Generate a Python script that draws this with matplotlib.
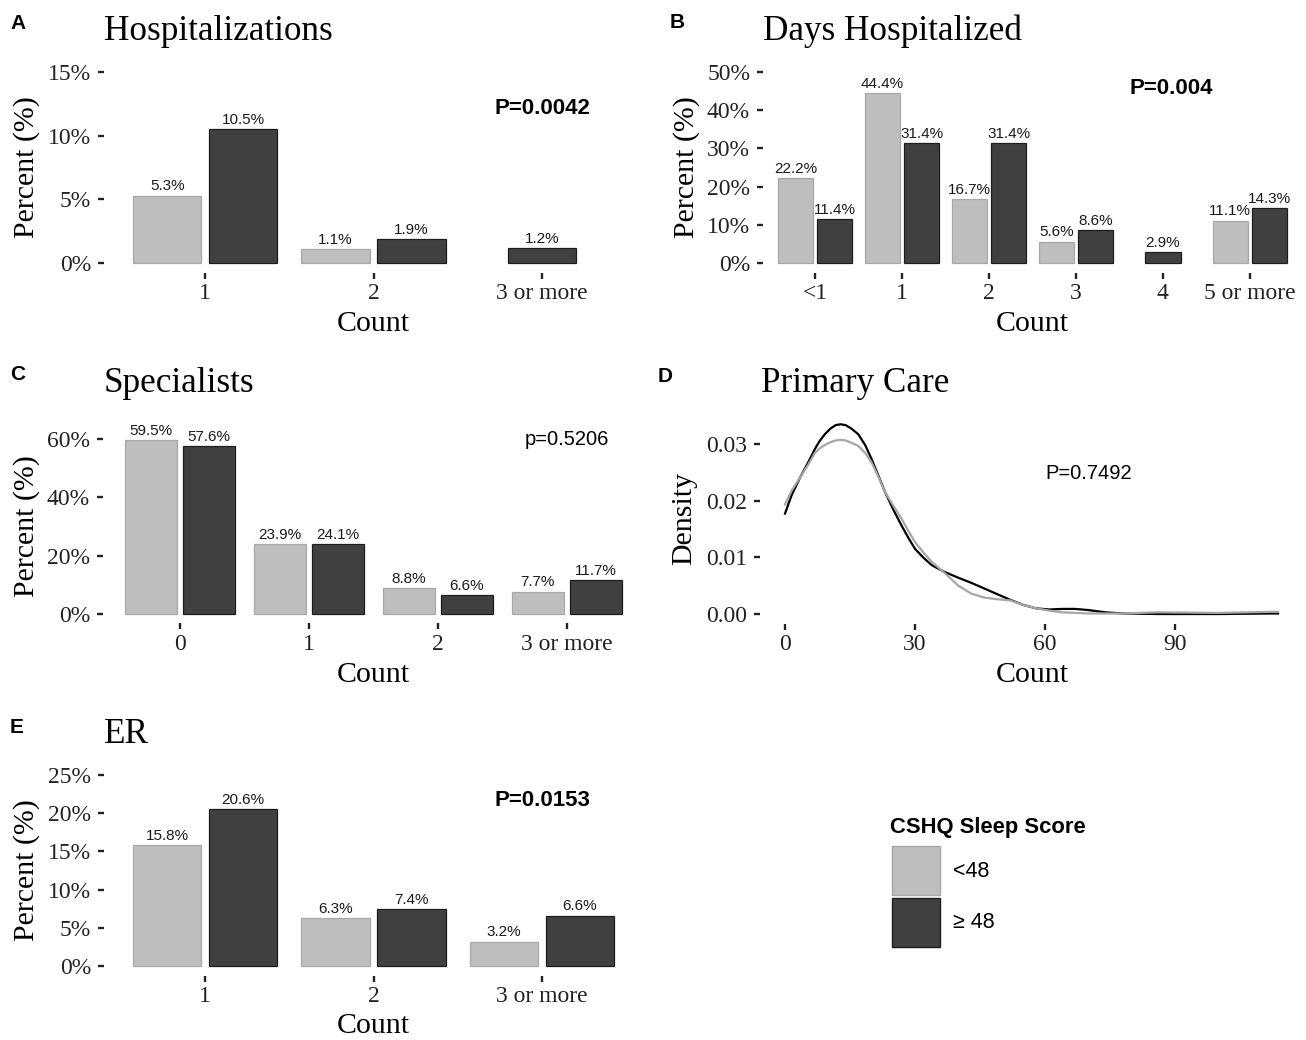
import matplotlib

matplotlib.use("Agg")
from matplotlib import pyplot as plt
from matplotlib.patches import Patch

W, H = 1306, 1040
LIGHT = "#bebebe"
DARK = "#404040"
SERIF = ["Liberation Serif", "DejaVu Serif"]
SANS = ["Liberation Sans", "DejaVu Sans"]

# A: hospitalizations
hosp_cats = ["1", "2", "3 or more"]
hosp_lt48 = [5.3, 1.1, 0.0]
hosp_ge48 = [10.5, 1.9, 1.2]

# B: days hospitalized
days_cats = ["<1", "1", "2", "3", "4", "5 or more"]
days_lt48 = [22.2, 44.4, 16.7, 5.6, 0.0, 11.1]
days_ge48 = [11.4, 31.4, 31.4, 8.6, 2.9, 14.3]

# C: specialists
spec_cats = ["0", "1", "2", "3 or more"]
spec_lt48 = [59.5, 23.9, 8.8, 7.7]
spec_ge48 = [57.6, 24.1, 6.6, 11.7]

# D: primary care density
pc_x = [0, 1.5, 3.5, 5.4, 6.9, 8, 9.2, 10.5, 11.7, 12.8, 14, 15.3, 16.9, 18.5,
        20, 21.5, 23.1, 25, 26.9, 28.5, 30, 32, 33.9, 36.9, 40, 43, 46, 49,
        52, 55, 58, 61, 64, 67, 70, 74, 78, 86, 100, 113.8]
pc_ge48 = [0.0177, 0.0209, 0.0241, 0.0268, 0.0291, 0.0305, 0.0317, 0.0327,
           0.0333, 0.03345, 0.0333, 0.0327, 0.0317, 0.0298, 0.0273, 0.0245,
           0.0215, 0.0184, 0.0156, 0.0134, 0.0115, 0.0099, 0.0086, 0.0074,
           0.0064, 0.0055, 0.0045, 0.0035, 0.0025, 0.0016, 0.0010, 0.0008,
           0.0009, 0.0009, 0.0007, 0.0003, 0.0001, 0.0000, 0.0000, 0.0001]
pc_lt48 = [0.0193, 0.0217, 0.0241, 0.0264, 0.0284, 0.0292, 0.0298, 0.0303,
           0.0306, 0.0307, 0.0306, 0.0302, 0.02965, 0.0284, 0.0267, 0.0243,
           0.0215, 0.0191, 0.0168, 0.0146, 0.0127, 0.0108, 0.0092, 0.0072,
           0.0050, 0.0036, 0.0029, 0.0026, 0.0024, 0.0016, 0.0010, 0.0006,
           0.0003, 0.0002, 0.0001, 0.0001, 0.0001, 0.0003, 0.0002, 0.0004]

# E: ER visits
er_cats = ["1", "2", "3 or more"]
er_lt48 = [15.8, 6.3, 3.2]
er_ge48 = [20.6, 7.4, 6.6]


def px_axes(fig, left, top, right, bottom):
    return fig.add_axes([left / W, 1 - bottom / H, (right - left) / W, (bottom - top) / H])


def style(ax, xlab_y, ylab_x):
    for s in ax.spines.values():
        s.set_visible(False)
    ax.tick_params(axis="both", length=4.3, width=1.7, color="#222222",
                   labelsize=17, labelcolor="#222222")
    ax.tick_params(axis="y", pad=5)
    ax.tick_params(axis="x", pad=3.5)
    for lab in ax.get_xticklabels() + ax.get_yticklabels():
        lab.set_family(SERIF)
    ax.xaxis.set_label_coords(0.5, xlab_y)
    ax.yaxis.set_label_coords(ylab_x, 0.5)


def barpanel(fig, box, cats, lt, ge, ylim, yticks, ptext, pxy, pbold, xlab_y, ylab_x):
    ax = px_axes(fig, *box)
    xs = list(range(1, len(cats) + 1))
    bw = 0.405
    # dodge like ggplot: a lone bar sits on its tick
    off_lt = [0.0 if g <= 0 else -0.225 for g in ge]
    off_ge = [0.0 if l <= 0 else 0.225 for l in lt]
    b1 = ax.bar([x + o for x, o in zip(xs, off_lt)], lt, bw, color=LIGHT,
                edgecolor="#a8a8a8", linewidth=0.9)
    b2 = ax.bar([x + o for x, o in zip(xs, off_ge)], ge, bw, color=DARK,
                edgecolor="#1e1e1e", linewidth=0.9)
    for bars, vals in ((b1, lt), (b2, ge)):
        for rect, v in zip(bars, vals):
            if v <= 0:
                rect.set_visible(False)
                continue
            ax.annotate(f"{v:.1f}%", (rect.get_x() + rect.get_width() / 2, v),
                        xytext=(0, 1.5), textcoords="offset points", ha="center",
                        va="bottom", fontsize=11, family=SANS, color="#1a1a1a")
    ax.text(pxy[0], pxy[1], ptext, ha="center", va="center", family=SANS,
            fontsize=16 if pbold else 14.5, fontweight="bold" if pbold else "normal")
    ax.set_xlim(0.4, len(cats) + 0.6)
    ax.set_ylim(*ylim)
    ax.set_xticks(xs, cats)
    ax.set_yticks(yticks, [f"{t}%" for t in yticks])
    ax.set_xlabel("Count", fontsize=21.5, family=SERIF, va="center")
    ax.set_ylabel("Percent (%)", fontsize=21.5, family=SERIF, va="center")
    style(ax, xlab_y, ylab_x)
    return ax


def heading(fig, x, y, letter, lx, ly, title):
    fig.text(lx / W, 1 - ly / H, letter, family=SANS, fontweight="bold",
             fontsize=15, va="baseline", ha="left")
    fig.text(x / W, 1 - y / H, title, family=SERIF, fontsize=25.3,
             va="baseline", ha="left")


fig = plt.figure(figsize=(W / 100, H / 100), dpi=100)

barpanel(fig, (104, 62.5, 643, 272.5), hosp_cats, hosp_lt48, hosp_ge48,
         (-0.75, 15.75), [0, 5, 10, 15], "P=0.0042", (3, 12.1), True, -0.245, -0.144)
heading(fig, 104, 40, "A", 10, 29, "Hospitalizations")

barpanel(fig, (763, 62.5, 1302, 272.5), days_cats, days_lt48, days_ge48,
         (-2.5, 52.5), [0, 10, 20, 30, 40, 50], "P=0.004", (5.1, 45.8), True, -0.245, -0.142)
heading(fig, 763, 40, "B", 670, 28, "Days Hospitalized")

barpanel(fig, (103, 430, 644, 623), spec_cats, spec_lt48, spec_ge48,
         (-3.1, 63.1), [0, 20, 40, 60], "p=0.5206", (4, 59.7), False, -0.27, -0.141)
heading(fig, 104, 392, "C", 10, 380, "Specialists")

ax = px_axes(fig, 760, 413.5, 1304, 623.5)
ax.plot(pc_x, pc_ge48, color="black", lw=1.6)
ax.plot(pc_x, pc_lt48, color="#a6a6a6", lw=1.6)
ax.text(70, 0.0247, "P=0.7492", ha="center", va="center", family=SANS, fontsize=14.5)
ax.set_xlim(-5.77, 119.8)
ax.set_ylim(-0.00167, 0.03535)
ax.set_xticks([0, 30, 60, 90])
ax.set_yticks([0, 0.01, 0.02, 0.03], ["0.00", "0.01", "0.02", "0.03"])
ax.set_xlabel("Count", fontsize=21.5, family=SERIF, va="center")
ax.set_ylabel("Density", fontsize=21.5, family=SERIF, va="center")
style(ax, -0.245, -0.14)
heading(fig, 761, 392, "D", 658, 382, "Primary Care")

barpanel(fig, (104, 765.5, 643, 975.5), er_cats, er_lt48, er_ge48,
         (-1.25, 26.25), [0, 5, 10, 15, 20, 25], "P=0.0153", (3, 21.7), True, -0.24, -0.144)
heading(fig, 104, 743, "E", 10, 733, "ER")

# legend: title as its own text so the gap to the keys matches
fig.text(890 / W, 1 - 833 / H, "CSHQ Sleep Score", family=SANS, fontsize=15.8,
         fontweight="bold", va="baseline", ha="left")
fig.legend(
    handles=[Patch(facecolor=LIGHT, edgecolor="#a8a8a8", label="<48"),
             Patch(facecolor=DARK, edgecolor="#1e1e1e", label="≥ 48")],
    loc="upper left", bbox_to_anchor=(892 / W, 1 - 846 / H), frameon=False,
    prop={"family": SANS, "size": 15.5},
    handlelength=2.25, handleheight=3.1, labelspacing=0.15, handletextpad=0.6,
    borderpad=0, borderaxespad=0,
)

fig.savefig("out.png", dpi=100)
